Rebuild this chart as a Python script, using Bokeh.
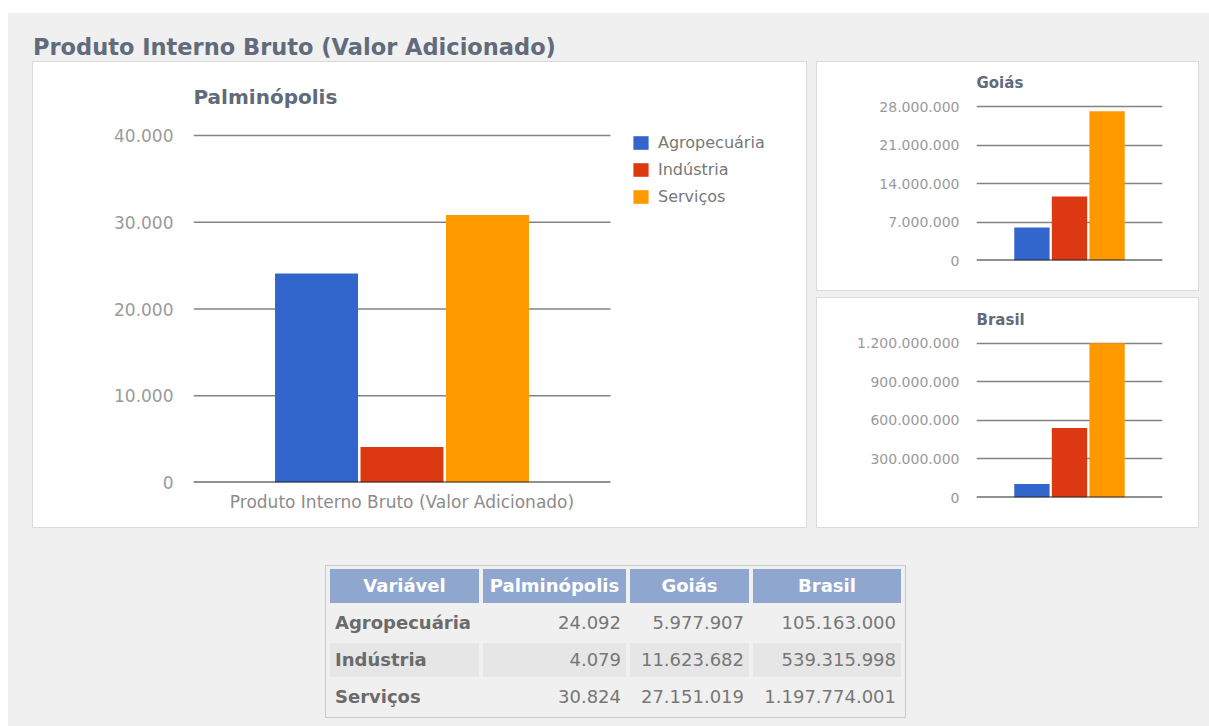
from bokeh.plotting import figure
from bokeh.models import (FactorRange, Range1d, FixedTicker, CustomJSTickFormatter, Span,
                          Legend, LegendItem, Div, ColumnDataSource)
from bokeh.transform import dodge
from bokeh.layouts import column, row
from bokeh.embed import file_html
from bokeh.resources import INLINE

# ---------------- data ----------------
page_title = "Produto Interno Bruto (Valor Adicionado)"
category = ["Produto Interno Bruto (Valor Adicionado)"]
series = ["Agropecuária", "Indústria", "Serviços"]
colors = ["#3366cc", "#dc3912", "#ff9900"]
regions = ["Palminópolis", "Goiás", "Brasil"]
palminopolis = [24092, 4079, 30824]
goias = [5977907, 11623682, 27151019]
brasil = [105163000, 539315998, 1197774001]
ticks_palm = [0, 10000, 20000, 30000, 40000]
ticks_goias = [0, 7000000, 14000000, 21000000, 28000000]
ticks_brasil = [0, 300000000, 600000000, 900000000, 1200000000]
table_header = ["Variável", "Palminópolis", "Goiás", "Brasil"]

FONT = "DejaVu Sans"
GRID = "#838383"
PANEL_STYLE = {"box-shadow": "0 0 0 1px #dadada", "background-color": "#ffffff"}
fmt_code = r"return Math.round(tick).toString().replace(/\B(?=(\d{3})+(?!\d))/g, '.');"


def style_common(p, name, title_size, title_standoff, tick_size, tick_standoff, ticks):
    p.title.text = name
    p.title.text_font = FONT
    p.title.text_font_size = title_size
    p.title.text_font_style = "bold"
    p.title.text_color = "#5f6a7b"
    p.title.align = "left"
    p.title.standoff = title_standoff
    p.yaxis.ticker = FixedTicker(ticks=ticks)
    p.yaxis.formatter = CustomJSTickFormatter(code=fmt_code)
    p.yaxis.axis_line_color = None
    p.yaxis.major_tick_line_color = None
    p.yaxis.minor_tick_line_color = None
    p.yaxis.major_tick_out = 0
    p.yaxis.major_label_standoff = tick_standoff
    p.yaxis.major_label_text_font = FONT
    p.yaxis.major_label_text_font_size = tick_size
    p.yaxis.major_label_text_color = "#9a9a9a"


# ---------------- main chart (Palminópolis) ----------------
W, H = 773, 465
B_TOP, B_BOTTOM, B_LEFT = 50, 45, 160
PLOT_W = 417            # pixel width of the bar area
TICK_SPAN = 347         # pixel height from 0 to the top tick
frame_w = W - B_LEFT
frame_h = H - B_TOP - B_BOTTOM
main = figure(width=W, height=H, output_backend="svg", toolbar_location=None,
              x_range=Range1d(0, frame_w / PLOT_W),
              y_range=Range1d(0, ticks_palm[-1] * frame_h / TICK_SPAN),
              min_border_top=B_TOP, min_border_right=0, min_border_bottom=B_BOTTOM,
              min_border_left=B_LEFT, background_fill_color=None, border_fill_color=None,
              outline_line_color=None, tools="", margin=(0, 0, 0, 25),
              styles=PANEL_STYLE)
style_common(main, regions[0], "20px", 7, "17px", 20, ticks_palm)
main.xgrid.grid_line_color = None
main.ygrid.grid_line_color = None

grid_src = ColumnDataSource(dict(t=ticks_palm[1:]))
main.segment(x0=0, x1=1, y0="t", y1="t", source=grid_src, line_color=GRID, line_width=1.6)

items = []
for i, s in enumerate(series):
    src = ColumnDataSource(dict(x=[0.5 + (i - 1) * 0.205], val=[palminopolis[i]]))
    r = main.vbar(x="x", top="val", width=0.199, source=src,
                  fill_color=colors[i], line_color=None)
    items.append(LegendItem(label=s, renderers=[r]))

main.segment(x0=0, x1=1, y0=ticks_palm[0], y1=ticks_palm[0], line_color="#222222", line_width=2)

main.xaxis.ticker = FixedTicker(ticks=[0.5])
main.xaxis.major_label_overrides = {0.5: category[0]}
main.xaxis.axis_line_color = None
main.xaxis.major_tick_line_color = None
main.xaxis.minor_tick_line_color = None
main.xaxis.major_tick_out = 0
main.xaxis.major_label_standoff = 9
main.xaxis.major_label_text_font = FONT
main.xaxis.major_label_text_font_size = "17px"
main.xaxis.major_label_text_color = "#8c8c8c"

lg = Legend(items=items, location=(PLOT_W + 21, frame_h - 20 - 74), margin=0, padding=0,
            border_line_color=None, background_fill_alpha=0,
            glyph_width=19, glyph_height=17, label_height=20,
            label_standoff=8, spacing=7,
            label_text_font=FONT, label_text_font_size="16px",
            label_text_color="#777777")
main.add_layout(lg)


# ---------------- small charts ----------------
def small_chart(name, vals, ticks, h, top, tick_span):
    fh = h - top - 30
    p = figure(width=381, height=h, output_backend="svg", toolbar_location=None,
               x_range=FactorRange(factors=category, range_padding=0),
               y_range=Range1d(0, ticks[-1] * fh / tick_span),
               min_border_top=top, min_border_right=36,
               min_border_bottom=30, min_border_left=159,
               background_fill_color=None, border_fill_color=None,
               outline_line_color=None, tools="",
               styles=PANEL_STYLE)
    style_common(p, name, "15px", 1, "14px", 17, ticks)
    for i, s in enumerate(series):
        src = ColumnDataSource(dict(cat=category, val=[vals[i]]))
        p.vbar(x=dodge("cat", (i - 1) * 0.202, range=p.x_range), top="val",
               width=0.19, source=src, fill_color=colors[i], line_color=None)
    p.xgrid.grid_line_color = None
    p.ygrid.ticker = FixedTicker(ticks=ticks)
    p.ygrid.grid_line_color = GRID
    p.ygrid.grid_line_width = 1.6
    p.xaxis.visible = False
    p.add_layout(Span(location=ticks[0], dimension="width", line_color="#222222", line_width=2))
    return p


g = small_chart(regions[1], goias, ticks_goias, 228, 30, 154)
b = small_chart(regions[2], brasil, ticks_brasil, 229, 31, 154.5)


# ---------------- title and table ----------------
def fmt(v):
    return f"{v:,}".replace(",", ".")


title_div = Div(text=(f"<div style=\"font-family:'{FONT}';font-weight:bold;font-size:22.5px;"
                      "color:#606b7c;line-height:26px;padding:21px 0 0 25px;white-space:nowrap\">"
                      f"{page_title}</div>"),
                width=800, height=49, margin=0)

widths = [149, 143, 119, 148]
cell = "height:34px;padding:0;"
hdr = "".join(
    f"<th style=\"{cell}width:{w}px;background:#8fa6cf;color:#ffffff;font-weight:bold;text-align:center\">{t}</th>"
    for t, w in zip(table_header, widths))
rows_html = ""
cols = [palminopolis, goias, brasil]
for i, s in enumerate(series):
    bg = "background:#e6e6e6;" if i == 1 else ""
    tds = (f"<td style=\"{cell}{bg}padding-left:5px;width:{widths[0]-5}px;font-weight:bold;"
           f"color:#6b6b6b;text-align:left\">{s}</td>")
    for j, c in enumerate(cols):
        tds += (f"<td style=\"{cell}{bg}padding-right:5px;width:{widths[j+1]-5}px;color:#777777;"
                f"text-align:right\">{fmt(c[i])}</td>")
    rows_html += f"<tr>{tds}</tr>"

table_html = (f"<table style=\"border:1px solid #c9c9c9;border-spacing:4px 3px;"
              f"font-family:'{FONT}';font-size:18px;\"><tr>{hdr}</tr>{rows_html}</table>")
table_div = Div(text=table_html, width=600, height=160, margin=(38, 0, 0, 317))

right_col = column(g, b, spacing=8, margin=(0, 0, 0, 11))
charts = row(main, right_col, margin=0)

page = column(title_div, charts, table_div, width=1201, height=713,
              margin=(13, 0, 0, 8), styles={"background-color": "#f0f0f0"})

open("out.html", "w").write(file_html(page, INLINE))
